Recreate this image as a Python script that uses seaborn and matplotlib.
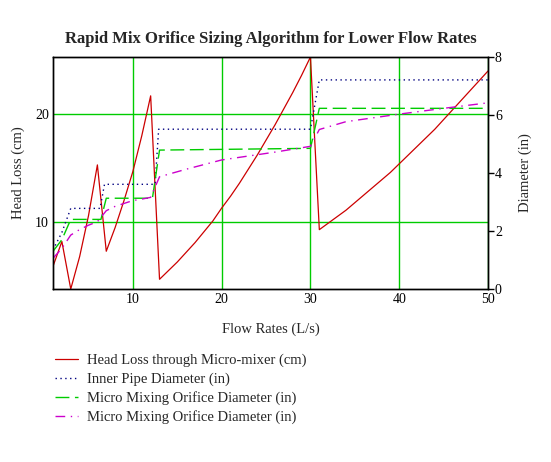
import matplotlib
matplotlib.use("Agg")
import matplotlib.pyplot as plt
import seaborn as sns

# Flow rates (L/s) and head loss through the micro-mixer (cm), left axis
flow = list(range(1, 51))
head_loss = [5.9, 8.2, 3.8, 6.8, 10.6, 15.3, 7.3, 9.5, 12.0, 14.7,
             18.0, 21.7, 4.7, 5.5, 6.3, 7.2, 8.1, 9.1, 10.1, 11.3,
             12.4, 13.6, 14.9, 16.2, 17.6, 19.0, 20.5, 22.0, 23.6, 25.3,
             9.3, 9.9, 10.5, 11.1, 11.8, 12.5, 13.2, 13.9, 14.6, 15.4,
             16.2, 17.0, 17.8, 18.6, 19.5, 20.4, 21.3, 22.2, 23.1, 24.0]

# Diameters (in), right axis
pipe_flow = [1, 2, 3, 6.3, 6.8, 12.5, 12.9, 30, 31, 50]
pipe_diam = [1.35, 1.95, 2.78, 2.78, 3.61, 3.61, 5.51, 5.51, 7.21, 7.21]

orifice_flow = [1, 2, 3, 6.4, 7, 12.2, 13, 30, 31, 50]
orifice_diam = [1.3, 1.7, 2.4, 2.4, 3.13, 3.13, 4.79, 4.85, 6.23, 6.23]

calc_flow = [1, 2, 3, 4, 5, 6, 7, 8, 9, 10, 11, 12, 13, 16, 20, 26, 30,
             31, 34, 40, 45, 50]
calc_diam = [1.06, 1.4, 1.86, 2.05, 2.2, 2.32, 2.7, 2.85, 2.95, 3.05, 3.1,
             3.16, 3.87, 4.13, 4.45, 4.72, 4.92, 5.5, 5.77, 6.03, 6.23, 6.42]

labels = ["Head Loss through Micro-mixer (cm)",
          "Inner Pipe Diameter (in)",
          "Micro Mixing Orifice Diameter (in)",
          "Micro Mixing Orifice Diameter (in)"]

RED = "#cc0000"
NAVY = "#000080"
GREEN = "#00cc00"
MAGENTA = "#cc00cc"

sns.set_style("white")
plt.rcParams["font.family"] = ["Liberation Serif", "DejaVu Serif"]

fig = plt.figure(figsize=(5.51, 4.62), dpi=100)
ax = fig.add_axes([53 / 551, 1 - 289 / 462, 435 / 551, 232 / 462])
ax2 = ax.twinx()

sns.lineplot(x=flow, y=head_loss, ax=ax, color=RED, linewidth=0.9,
             label=labels[0], estimator=None, sort=False)
sns.lineplot(x=pipe_flow, y=pipe_diam, ax=ax2, color=NAVY, linewidth=1.0,
             linestyle=(0, (1, 2.5)), label=labels[1], estimator=None, sort=False)
sns.lineplot(x=orifice_flow, y=orifice_diam, ax=ax2, color=GREEN, linewidth=1.0,
             linestyle=(0, (10, 4)), label=labels[2], estimator=None, sort=False)
sns.lineplot(x=calc_flow, y=calc_diam, ax=ax2, color=MAGENTA, linewidth=1.0,
             linestyle=(0, (7, 4, 1, 4)), label=labels[3], estimator=None, sort=False)

ax.set_xlim(1, 50)
ax.set_ylim(min(head_loss), max(head_loss))
ax2.set_ylim(0, 8)
ax.set_xticks([10, 20, 30, 40, 50])
ax.set_yticks([10, 20])
ax2.set_yticks([0, 2, 4, 6, 8])

ax.grid(True, color=GREEN, linewidth=1.0)
ax2.grid(False)
ax.set_axisbelow(True)

for a in (ax, ax2):
    for s in a.spines.values():
        s.set_color("black")
        s.set_linewidth(1.0)
        s.set_visible(True)

ax.tick_params(axis="both", length=0, labelsize=10, pad=3, colors="black")
ax2.tick_params(axis="y", direction="out", length=4, width=1, labelsize=10,
                pad=1, colors="black")

ax.set_xlabel("Flow Rates (L/s)", fontsize=10.5, labelpad=12)
ax.set_ylabel("Head Loss (cm)", fontsize=10.5, labelpad=7)
ax2.set_ylabel("Diameter (in)", fontsize=10.5, labelpad=12)
ax.set_title("Rapid Mix Orifice Sizing Algorithm for Lower Flow Rates",
             fontsize=12, fontweight="bold", pad=10)

h1, l1 = ax.get_legend_handles_labels()
h2, l2 = ax2.get_legend_handles_labels()
ax.get_legend().remove()
ax2.get_legend().remove()
fig.legend(h1 + h2, l1 + l2, loc="upper left",
           bbox_to_anchor=(55 / 551, 1 - 354 / 462), frameon=False,
           fontsize=10.5, handlelength=1.6, handletextpad=0.6,
           labelspacing=0.35, borderpad=0, borderaxespad=0)

fig.savefig("out.png", dpi=100)
plt.close(fig)
